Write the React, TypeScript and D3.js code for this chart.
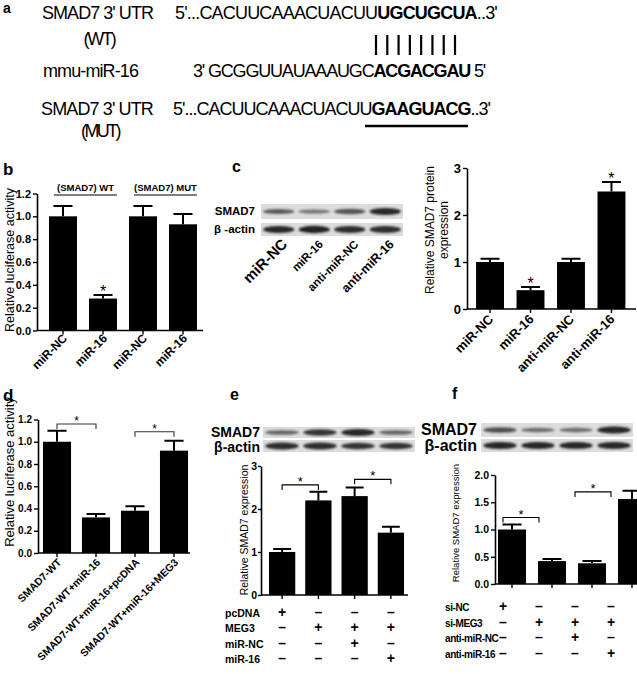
import { useEffect, useRef } from "react";
import * as d3 from "d3";

const FONT = "'Liberation Sans', Arial, Helvetica, sans-serif";

// a: target site (plain prefix, bold seed, plain suffix)
const utrWT = ["5'...CACUUCAAACUACUU", "UGCUGCUA", "..3'"];
const mir16 = ["3' GCGGUUAUAAAUGC", "ACGACGAU", " 5'"];
const utrMUT = ["5'...CACUUCAAACUACUU", "GAAGUACG", "..3'"];

// b: luciferase, WT vs MUT reporter
const bLabels = ["miR-NC", "miR-16", "miR-NC", "miR-16"];
const bMeans = [1.0, 0.28, 1.0, 0.93];
const bSem = [0.09, 0.03, 0.09, 0.09];
const bStars = [false, true, false, false];
const bGroups = ["(SMAD7) WT", "(SMAD7) MUT"];
const bTicks = [0, 0.2, 0.4, 0.6, 0.8, 1.0, 1.2];

// c: western blot + quantification
const cLabels = ["miR-NC", "miR-16", "anti-miR-NC", "anti-miR-16"];
const cMeans = [1.0, 0.4, 1.0, 2.5];
const cSem = [0.07, 0.07, 0.07, 0.2];
const cStars = [false, true, false, true];
const cTicks = [0, 1, 2, 3];
const cSmad7Band = [0.5, 0.3, 0.55, 0.9];
const cActinBand = [0.9, 0.95, 0.85, 0.85];

// d: luciferase rescue
const dLabels = ["SMAD7-WT", "SMAD7-WT+miR-16", "SMAD7-WT+miR-16+pcDNA", "SMAD7-WT+miR-16+MEG3"];
const dMeans = [1.0, 0.32, 0.38, 0.92];
const dSem = [0.1, 0.03, 0.04, 0.09];
const dBrackets: [number, number, number][] = [[0, 1, 1.16], [2, 3, 1.09]];
const dTicks = [0, 0.2, 0.4, 0.6, 0.8, 1.0, 1.2];

// e: MEG3 overexpression
const eMeans = [1.0, 2.2, 2.3, 1.45];
const eSem = [0.07, 0.2, 0.2, 0.14];
const eBrackets: [number, number, number][] = [[0, 1, 2.56], [2, 3, 2.69]];
const eTicks = [0, 1, 2, 3];
const eRows = ["pcDNA", "MEG3", "miR-NC", "miR-16"];
const eSigns = ["+---", "-+++", "--+-", "---+"];
const eSmad7Band = [0.4, 0.8, 0.9, 0.4];
const eActinBand = [0.85, 0.85, 0.8, 0.8];

// f: MEG3 knockdown
const fMeans = [1.0, 0.42, 0.38, 1.56];
const fSem = [0.09, 0.04, 0.04, 0.15];
const fBrackets: [number, number, number][] = [[0, 1, 1.22], [2, 3, 1.69]];
const fTicks = [0, 0.5, 1.0, 1.5, 2.0];
const fRows = ["si-NC", "si-MEG3", "anti-miR-NC", "anti-miR-16"];
const fSigns = ["+---", "-+++", "--+-", "---+"];
const fSmad7Band = [0.6, 0.35, 0.35, 0.9];
const fActinBand = [0.9, 0.9, 0.9, 0.9];

type G = d3.Selection<SVGGElement, unknown, null, undefined>;
type T = d3.Selection<SVGTextElement, unknown, null, undefined>;

function txt(g: G, x: number, y: number, s: string, size: number, opts: { bold?: boolean; anchor?: string; rot?: number } = {}) {
  return g.append("text")
    .attr("transform", `translate(${x},${y})${opts.rot ? ` rotate(${opts.rot})` : ""}`)
    .attr("font-family", FONT).attr("font-size", size)
    .attr("font-weight", opts.bold ? "bold" : "normal")
    .attr("text-anchor", opts.anchor ?? "start").attr("fill", "#000").text(s) as unknown as T;
}

// squeeze a text to a measured width with letter-spacing (the original type is condensed)
function fit(t: T, len: number) {
  const node = t.node();
  if (!node) return;
  const n = (node.textContent ?? "").length;
  const w = node.getComputedTextLength();
  t.attr("letter-spacing", (len - w) / n);
}

function seqLine(g: G, parts: string[], x: number, y: number, len: number) {
  const t = g.append("text").attr("x", x).attr("y", y)
    .attr("font-family", FONT).attr("font-size", 18).attr("fill", "#000") as unknown as T;
  parts.forEach((p, i) => t.append("tspan").attr("font-weight", i === 1 ? "bold" : "normal").text(p));
  fit(t, len);
}

function bars(g: G, o: {
  means: number[]; sem: number[]; xr: [number, number]; pad: number;
  yr: [number, number]; ymax: number; axisX: number; axisEnd: number;
  ticks: number[]; fmt: string; tickFont: number; tickSize?: number;
}) {
  const x = d3.scaleBand<number>().domain(d3.range(o.means.length)).range(o.xr).paddingInner(o.pad).paddingOuter(o.pad / 2);
  const y = d3.scaleLinear().domain([0, o.ymax]).range(o.yr);
  const bw = x.bandwidth();
  const cx = (i: number) => (x(i) ?? 0) + bw / 2;
  const cap = bw * 0.34;

  g.selectAll(null).data(o.means).join("rect")
    .attr("x", (_, i) => x(i) ?? 0).attr("y", (d) => y(d))
    .attr("width", bw).attr("height", (d) => y(0) - y(d)).attr("fill", "#000");

  g.selectAll(null).data(o.means).join("path")
    .attr("d", (d, i) => `M${cx(i)},${y(d)}V${y(d + o.sem[i])}M${cx(i) - cap},${y(d + o.sem[i])}H${cx(i) + cap}`)
    .attr("stroke", "#000").attr("stroke-width", 2).attr("fill", "none");

  const ts = o.tickSize ?? 4;
  const ya = g.append("g").attr("transform", `translate(${o.axisX},0)`)
    .call(d3.axisLeft(y).tickValues(o.ticks).tickFormat(d3.format(o.fmt) as any).tickSize(ts).tickSizeOuter(0).tickPadding(ts < 4 ? 1 : 2));
  ya.select(".domain").attr("stroke-width", 1.6);
  ya.selectAll(".tick line").attr("stroke-width", 1.4);
  ya.selectAll("text").attr("font-family", FONT).attr("font-weight", "bold").attr("font-size", o.tickFont).attr("fill", "#000");

  g.append("line").attr("x1", o.axisX).attr("x2", o.axisEnd).attr("y1", y(0)).attr("y2", y(0))
    .attr("stroke", "#000").attr("stroke-width", 1.6);
  g.selectAll(null).data(o.means).join("line")
    .attr("x1", (_, i) => cx(i)).attr("x2", (_, i) => cx(i)).attr("y1", y(0)).attr("y2", y(0) + 4)
    .attr("stroke", "#000").attr("stroke-width", 1.4);
  return { x, y, cx, bw };
}

function stars(g: G, flags: boolean[], means: number[], sem: number[], cx: (i: number) => number, y: d3.ScaleLinear<number, number>, size: number) {
  flags.forEach((f, i) => {
    if (f) txt(g, cx(i), y(means[i] + sem[i]) + 2, "*", size, { anchor: "middle" });
  });
}

function brackets(g: G, list: [number, number, number][], cx: (i: number) => number, y: d3.ScaleLinear<number, number>, color: string, starSize: number) {
  list.forEach(([a, b, lvl]) => {
    const yb = y(lvl);
    g.append("path").attr("d", `M${cx(a)},${yb + 5}V${yb}H${cx(b)}V${yb + 5}`)
      .attr("fill", "none").attr("stroke", color).attr("stroke-width", 1.1);
    txt(g, (cx(a) + cx(b)) / 2, yb + 1, "*", starSize, { anchor: "middle" });
  });
}

function blot(g: G, xr: [number, number], rows: { y0: number; y1: number; vals: number[] }[]) {
  const lane = d3.scaleBand<number>().domain(d3.range(4)).range(xr).paddingInner(0.12).paddingOuter(0.06);
  rows.forEach((r) => {
    g.append("rect").attr("x", xr[0]).attr("y", r.y0).attr("width", xr[1] - xr[0]).attr("height", r.y1 - r.y0).attr("fill", "#dcdcdc");
    const mid = (r.y0 + r.y1) / 2;
    g.selectAll(null).data(r.vals).join("ellipse")
      .attr("cx", (_, i) => (lane(i) ?? 0) + lane.bandwidth() / 2).attr("cy", mid)
      .attr("rx", lane.bandwidth() / 2).attr("ry", (d) => 1.4 + 2.4 * d)
      .attr("fill", "#1a1a1a").attr("opacity", (d) => 0.35 + 0.65 * d)
      .attr("filter", "url(#blur)");
  });
  return (i: number) => (lane(i) ?? 0) + lane.bandwidth() / 2;
}

function table(g: G, rows: string[], signs: string[], labelX: number, yr: [number, number], col: (i: number) => number, size: number, spacing = 0) {
  const ry = d3.scalePoint<number>().domain(d3.range(rows.length)).range(yr);
  rows.forEach((r, k) => {
    txt(g, labelX, ry(k) ?? 0, r, size, { bold: true }).attr("letter-spacing", spacing);
    signs[k].split("").forEach((s, i) => {
      txt(g, col(i), ry(k) ?? 0, s === "+" ? "+" : "–", 14, { bold: true, anchor: "middle" });
    });
  });
}

export default function App() {
  const ref = useRef<SVGSVGElement>(null);

  useEffect(() => {
    const el = ref.current;
    if (!el) return;
    const svg = d3.select(el);
    svg.selectAll("*").remove();
    svg.append("defs").append("filter").attr("id", "blur").attr("x", "-20%").attr("y", "-80%").attr("width", "140%").attr("height", "260%")
      .append("feGaussianBlur").attr("stdDeviation", 0.9);
    const root = svg.append("g") as unknown as G;

    // ---- a ----
    const a = root.append("g");
    txt(a, 3, 13, "a", 14, { bold: true });
    fit(txt(a, 42, 19, "SMAD7 3' UTR", 18), 111);
    fit(txt(a, 99, 45, "(WT)", 18, { anchor: "middle" }), 31);
    fit(txt(a, 43, 77, "mmu-miR-16", 18), 95);
    fit(txt(a, 41, 115, "SMAD7 3' UTR", 18), 112);
    fit(txt(a, 100, 137, "(MUT)", 18, { anchor: "middle" }), 38);
    seqLine(a, utrWT, 175, 19, 322);
    seqLine(a, mir16, 193, 77, 292);
    seqLine(a, utrMUT, 173, 115, 317);
    const pair = d3.scalePoint<number>().domain(d3.range(utrWT[1].length)).range([376, 455]);
    a.selectAll(null).data(utrWT[1].split("")).join("line")
      .attr("x1", (_, i) => pair(i) ?? 0).attr("x2", (_, i) => pair(i) ?? 0).attr("y1", 35).attr("y2", 55)
      .attr("stroke", "#000").attr("stroke-width", 2.2);
    a.append("line").attr("x1", 365).attr("x2", 468).attr("y1", 126).attr("y2", 126).attr("stroke", "#000").attr("stroke-width", 2.5);

    // ---- b ----
    const b = root.append("g");
    txt(b, 3, 175, "b", 17, { bold: true });
    const B = bars(b, { means: bMeans, sem: bSem, xr: [43, 203], pad: 0.3, yr: [330.5, 193.5], ymax: 1.2, axisX: 37, axisEnd: 203, ticks: bTicks, fmt: ".1f", tickFont: 11 });
    stars(b, bStars, bMeans, bSem, B.cx, B.y, 16);
    bGroups.forEach((s, k) => {
      const x0 = (B.x(2 * k) ?? 0) + 5, x1 = (B.x(2 * k + 1) ?? 0) + B.bw;
      b.append("line").attr("x1", x0).attr("x2", x1).attr("y1", 195).attr("y2", 195).attr("stroke", "#000").attr("stroke-width", 1.2);
      txt(b, (x0 + x1) / 2, 191, s, 9.5, { bold: true, anchor: "middle" });
    });
    bLabels.forEach((s, i) => txt(b, B.cx(i) + 5, 339, s, 12, { bold: true, anchor: "end", rot: -45 }));
    txt(b, 14, 260, "Relative luciferase activity", 12.5, { anchor: "middle", rot: -90 });

    // ---- c ----
    const c = root.append("g");
    txt(c, 232, 172, "c", 16, { bold: true });
    const lane = blot(c, [261, 403], [{ y0: 204, y1: 219, vals: cSmad7Band }, { y0: 223, y1: 236, vals: cActinBand }]);
    txt(c, 255, 215, "SMAD7", 11.5, { bold: true, anchor: "end" });
    txt(c, 255, 233, "β -actin", 11.5, { bold: true, anchor: "end" });
    const laneFont = [15, 11.5, 11.5, 12.5];
    cLabels.forEach((s, i) => txt(c, lane(i) + 9.5, 245, s, laneFont[i], { bold: true, anchor: "end", rot: -45 }));
    const C = bars(c, { means: cMeans, sem: cSem, xr: [469.8, 631.7], pad: 0.31, yr: [309, 168], ymax: 3, axisX: 467, axisEnd: 636, ticks: cTicks, fmt: "d", tickFont: 13 });
    stars(c, cStars, cMeans, cSem, C.cx, C.y, 16);
    cLabels.forEach((s, i) => txt(c, C.cx(i) + 4, 320, s, 13, { bold: true, anchor: "end", rot: -45 }));
    txt(c, 434, 230, "Relative SMAD7 protein", 12, { anchor: "middle", rot: -90 });
    txt(c, 448, 230, "expression", 12, { anchor: "middle", rot: -90 });

    // ---- d ----
    const d = root.append("g");
    txt(d, 3, 401, "d", 17, { bold: true });
    const D = bars(d, { means: dMeans, sem: dSem, xr: [37.5, 193.5], pad: 0.28, yr: [553, 419.5], ymax: 1.2, axisX: 38, axisEnd: 190, ticks: dTicks, fmt: ".1f", tickFont: 10 });
    brackets(d, dBrackets, D.cx, D.y, "#333", 12);
    dLabels.forEach((s, i) => txt(d, D.cx(i) + 5, 563, s, 10.5, { bold: true, anchor: "end", rot: -45 }));
    txt(d, 14, 472, "Relative luciferase activity", 13, { anchor: "middle", rot: -90 });

    // ---- e ----
    const e = root.append("g");
    txt(e, 230, 400, "e", 16, { bold: true });
    blot(e, [263, 415], [{ y0: 427, y1: 438, vals: eSmad7Band }, { y0: 440, y1: 452, vals: eActinBand }]);
    txt(e, 260, 437, "SMAD7", 14, { bold: true, anchor: "end" });
    txt(e, 260, 452, "β-actin", 14, { bold: true, anchor: "end" });
    const E = bars(e, { means: eMeans, sem: eSem, xr: [264, 409], pad: 0.275, yr: [595, 466], ymax: 3, axisX: 261, axisEnd: 408, ticks: eTicks, fmt: "d", tickFont: 10.5, tickSize: 3 });
    brackets(e, eBrackets, E.cx, E.y, "#000", 13);
    table(e, eRows, eSigns, 225, [617, 663], E.cx, 10.5);
    txt(e, 248, 530, "Relative SMAD7 expression", 10.5, { anchor: "middle", rot: -90 });

    // ---- f ----
    const f = root.append("g");
    txt(f, 452, 399, "f", 16, { bold: true });
    blot(f, [481, 633], [{ y0: 423, y1: 437, vals: fSmad7Band }, { y0: 439, y1: 452, vals: fActinBand }]);
    txt(f, 477, 435, "SMAD7", 16, { bold: true, anchor: "end" });
    txt(f, 477, 451, "β-actin", 16, { bold: true, anchor: "end" });
    const F = bars(f, { means: fMeans, sem: fSem, xr: [492, 652], pad: 0.3, yr: [584, 475], ymax: 2, axisX: 495, axisEnd: 637, ticks: fTicks, fmt: ".1f", tickFont: 10.5 });
    const colF = d3.scalePoint<number>().domain(d3.range(4)).range([503, 611]);
    brackets(f, fBrackets, (i) => colF(i) ?? 0, F.y, "#000", 13);
    table(f, fRows, fSigns, 445, [611, 658], (i) => colF(i) ?? 0, 10, -0.4);
    txt(f, 459, 523, "Relative SMAD7 expression", 9.5, { anchor: "middle", rot: -90 });
  }, []);

  return (
    <div style={{ position: "absolute", left: 0, top: 0 }}>
      <svg ref={ref} width={637} height={674} style={{ display: "block", background: "#fff" }} />
    </div>
  );
}
